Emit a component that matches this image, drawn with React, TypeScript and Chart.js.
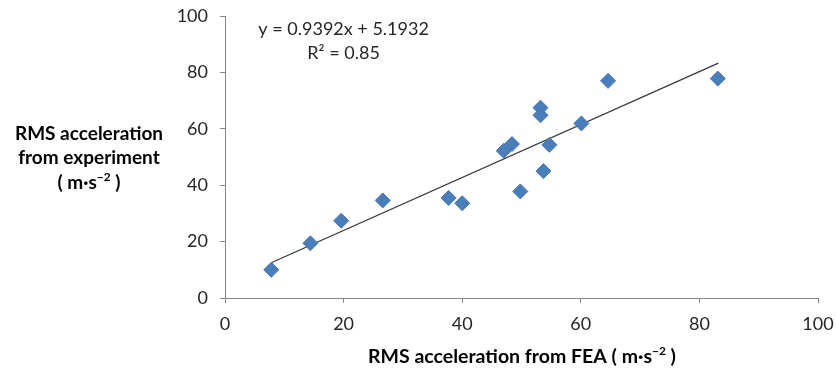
import { useEffect, useRef } from "react";
import { Chart, registerables } from "chart.js";

Chart.register(...registerables);

const feaX = [7.8, 14.4, 19.6, 26.6, 37.7, 40.0, 47.0, 48.4, 49.8, 53.2, 53.2, 53.7, 54.7, 60.1, 64.6, 83.1];
const expY = [10.0, 19.4, 27.4, 34.6, 35.5, 33.6, 52.2, 54.6, 37.8, 67.5, 64.8, 45.0, 54.3, 61.9, 77.0, 77.8];
const trendX = [7.8, 83.2];
const trendY = [12.5, 83.3];
const axisTicks = [0, 20, 40, 60, 80, 100];
const equationText = "y = 0.9392x + 5.1932";
const r2Text = "R\u00B2 = 0.85";
const yTitleLines = ["RMS acceleration", "from experiment"];
const xTitleText = "RMS acceleration from FEA";

const FONT = "Lato, 'Open Sans', sans-serif";

type Seg = { t: string; f: string; dy?: number };

function drawRich(ctx: CanvasRenderingContext2D, segs: Seg[], cx: number, y: number) {
  let total = 0;
  const widths = segs.map((s) => {
    ctx.font = s.f;
    const w = ctx.measureText(s.t).width;
    total += w;
    return w;
  });
  let x = cx - total / 2;
  ctx.textAlign = "left";
  segs.forEach((s, i) => {
    ctx.font = s.f;
    ctx.fillText(s.t, x, y + (s.dy || 0));
    x += widths[i];
  });
}

const titlePlugin = {
  id: "titles",
  afterDraw(chart: any) {
    const ctx: CanvasRenderingContext2D = chart.ctx;
    const xs = chart.scales.x;
    const ys = chart.scales.y;
    ctx.save();
    ctx.textBaseline = "middle";
    ctx.fillStyle = "#000";
    const bold = `bold 19px ${FONT}`;
    const boldSup = `bold 12px ${FONT}`;
    const boldX = `bold 19.5px ${FONT}`;
    ctx.textAlign = "center";
    ctx.font = bold;
    ctx.fillText(yTitleLines[0], 89, 134);
    ctx.fillText(yTitleLines[1], 89, 158);
    drawRich(
      ctx,
      [
        { t: "( m\u00B7s", f: bold },
        { t: "\u22122", f: boldSup, dy: -6 },
        { t: " )", f: bold },
      ],
      89,
      183
    );
    drawRich(
      ctx,
      [
        { t: xTitleText + " ( m\u00B7s", f: boldX },
        { t: "\u22122", f: boldSup, dy: -6 },
        { t: " )", f: boldX },
      ],
      522,
      357
    );
    ctx.fillStyle = "#262626";
    ctx.font = `18px ${FONT}`;
    ctx.textAlign = "center";
    const ex = xs.getPixelForValue(20);
    ctx.fillText(equationText, ex, ys.getPixelForValue(95.2));
    ctx.fillText(r2Text, ex, ys.getPixelForValue(86.7));
    ctx.restore();
  },
};

const noScalePadding = (s: any) => {
  s.paddingTop = 0;
  s.paddingBottom = 0;
  s.paddingLeft = 0;
  s.paddingRight = 0;
};

export default function App() {
  const ref = useRef<HTMLCanvasElement | null>(null);
  useEffect(() => {
    if (!ref.current) return;
    const chart = new Chart(ref.current, {
      type: "scatter",
      data: {
        datasets: [
          {
            type: "line",
            data: trendX.map((x, i) => ({ x, y: trendY[i] })),
            borderColor: "#3a3a3a",
            borderWidth: 1.3,
            pointRadius: 0,
            fill: false,
            order: 2,
          } as any,
          {
            data: feaX.map((x, i) => ({ x, y: expY[i] })),
            pointStyle: "rectRot",
            pointRadius: 7.5,
            backgroundColor: "#4A7EBB",
            borderColor: "#4576B2",
            borderWidth: 1,
            order: 1,
          },
        ],
      },
      options: {
        animation: false,
        responsive: false,
        layout: { padding: { top: 16, right: 18, left: 0, bottom: 0 } },
        plugins: { legend: { display: false }, tooltip: { enabled: false } },
        scales: {
          x: {
            type: "linear",
            min: 0,
            max: 100,
            afterBuildTicks: (s: any) => {
              s.ticks = axisTicks.map((v) => ({ value: v }));
            },
            afterFit: (s: any) => {
              s.height = 70;
              noScalePadding(s);
            },
            ticks: { color: "#262626", font: { family: FONT, size: 18 }, padding: 10, maxRotation: 0 },
            grid: { display: true, drawOnChartArea: false, drawTicks: true, tickLength: 5, color: "#868686" },
            border: { display: true, color: "#868686", width: 1 },
          },
          y: {
            type: "linear",
            min: 0,
            max: 100,
            afterBuildTicks: (s: any) => {
              s.ticks = axisTicks.map((v) => ({ value: v }));
            },
            afterFit: (s: any) => {
              s.width = 225;
              noScalePadding(s);
            },
            ticks: { color: "#262626", font: { family: FONT, size: 18 }, padding: 12 },
            grid: { display: true, drawOnChartArea: false, drawTicks: true, tickLength: 5, color: "#868686" },
            border: { display: true, color: "#868686", width: 1 },
          },
        },
      },
      plugins: [titlePlugin],
    });
    return () => chart.destroy();
  }, []);
  return (
    <div style={{ position: "fixed", left: 0, top: 0, width: 836, height: 368, background: "#fff" }}>
      <canvas ref={ref} width={836} height={368} style={{ display: "block" }} />
    </div>
  );
}
